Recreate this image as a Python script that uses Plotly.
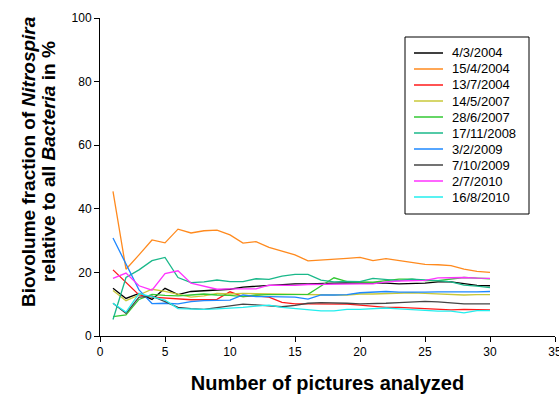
import plotly.graph_objects as go

# Number of pictures analyzed (x) and running biovolume fraction (%) per sampling date
pictures = list(range(1, 31))

dates = ["4/3/2004", "15/4/2004", "13/7/2004", "14/5/2007", "28/6/2007",
         "17/11/2008", "3/2/2009", "7/10/2009", "2/7/2010", "16/8/2010"]

colors = ["#000000", "#ff8a1e", "#ff1a1a", "#c8c83a", "#33c833",
          "#1ab88a", "#1e88ff", "#454545", "#ff33ff", "#22eeee"]

s_04032004 = [15.0, 11.8, 13.4, 11.5, 15.0, 13.0, 14.0, 14.2, 14.5, 14.7,
              15.4, 15.7, 15.9, 16.2, 16.4, 16.4, 16.6, 16.6, 16.7, 16.7,
              16.8, 16.6, 16.4, 16.4, 16.6, 17.0, 17.0, 16.5, 15.9, 15.8]
s_15042004 = [45.5, 21.0, 25.5, 30.2, 29.3, 33.6, 32.4, 33.1, 33.3, 31.8,
              29.2, 29.7, 27.9, 26.7, 25.5, 23.6, 23.8, 24.1, 24.4, 24.7,
              23.7, 24.3, 23.7, 23.0, 22.5, 22.4, 22.1, 21.0, 20.3, 20.0]
s_13072004 = [20.8, 17.0, 12.9, 12.2, 11.9, 11.7, 11.4, 11.4, 11.5, 13.9,
              12.4, 12.6, 12.2, 10.6, 10.1, 10.1, 10.1, 10.1, 10.0, 9.7,
              9.4, 9.0, 9.0, 8.8, 8.8, 8.6, 8.2, 8.4, 8.4, 8.2]
s_14052007 = [14.3, 11.1, 12.9, 14.7, 14.0, 13.2, 12.2, 12.6, 13.4, 13.2,
              13.4, 13.3, 13.2, 13.3, 13.2, 13.0, 12.9, 12.9, 12.9, 13.2,
              13.2, 13.4, 13.6, 13.6, 13.4, 13.2, 13.2, 12.9, 13.0, 13.0]
s_28062007 = [6.1, 6.6, 11.5, 13.1, 12.8, 12.6, 12.9, 13.2, 12.9, 12.8,
              12.4, 12.9, 13.0, 13.1, 13.1, 13.1, 15.7, 18.3, 17.1, 17.1,
              16.9, 17.4, 17.9, 17.9, 17.4, 17.4, 17.9, 18.4, 18.2, 18.0]
s_17112008 = [5.2, 18.4, 20.8, 23.7, 24.7, 18.4, 16.8, 17.0, 17.6, 17.1,
              17.1, 18.0, 17.8, 18.8, 19.4, 19.4, 17.6, 17.0, 17.2, 17.1,
              18.1, 17.8, 17.4, 17.9, 17.7, 17.4, 17.0, 16.0, 15.7, 15.2]
s_03022009 = [30.8, 22.7, 14.5, 10.2, 10.3, 10.1, 10.8, 11.1, 11.3, 11.3,
              12.9, 12.4, 12.4, 12.2, 12.2, 11.6, 12.9, 12.9, 13.0, 13.6,
              13.7, 14.0, 13.8, 13.7, 13.8, 13.9, 13.8, 13.9, 13.9, 14.0]
s_07102009 = [10.3, 7.1, 12.2, 12.5, 10.8, 9.0, 8.6, 8.4, 8.9, 9.4,
              10.0, 9.8, 9.6, 9.2, 9.6, 10.3, 10.5, 10.5, 10.3, 10.1,
              10.1, 10.3, 10.5, 10.6, 10.9, 10.7, 10.4, 10.1, 10.1, 10.1]
s_02072010 = [18.1, 19.8, 15.8, 14.4, 19.6, 20.5, 16.6, 15.7, 14.7, 14.8,
              14.7, 14.8, 16.0, 16.0, 15.9, 16.2, 16.3, 16.3, 16.4, 16.4,
              16.4, 17.0, 17.3, 17.5, 17.5, 18.3, 18.4, 18.4, 18.2, 18.1]
s_16082010 = [10.3, 7.5, 13.4, 12.4, 11.3, 8.6, 8.4, 8.4, 8.5, 8.7,
              9.0, 9.4, 9.7, 9.0, 8.7, 8.4, 7.9, 7.9, 8.4, 8.4,
              8.5, 8.8, 8.5, 8.2, 7.9, 7.8, 7.8, 7.3, 8.0, 8.0]

series = [s_04032004, s_15042004, s_13072004, s_14052007, s_28062007,
          s_17112008, s_03022009, s_07102009, s_02072010, s_16082010]

x_ticks = [0, 5, 10, 15, 20, 25, 30, 35]
y_ticks = [0, 20, 40, 60, 80, 100]

FONT = "Liberation Sans, Arial, sans-serif"

W, H = 559, 394
M_L, M_R, M_T, M_B = 100, 4, 18, 58
PLOT_W = W - M_L - M_R
PLOT_H = H - M_T - M_B


def px_x(px):
    """Page pixel column -> paper x fraction."""
    return (px - M_L) / PLOT_W


def px_y(py):
    """Page pixel row -> paper y fraction."""
    return (H - M_B - py) / PLOT_H


fig = go.Figure()
for name, color, values in zip(dates, colors, series):
    fig.add_trace(go.Scatter(
        x=pictures, y=values, name=name, mode="lines",
        line=dict(color=color, width=1.3),
    ))

axis_common = dict(
    showline=True, linecolor="black", linewidth=1,
    ticks="outside", ticklen=5, tickcolor="black", tickwidth=1,
    showgrid=False, zeroline=False, automargin=False,
    tickfont=dict(family=FONT, size=12, color="black"),
)

# Boxed legend: a short line sample and the date for each series
shapes = [dict(type="rect", xref="paper", yref="paper",
               x0=px_x(405), x1=px_x(529), y0=px_y(214), y1=px_y(37),
               line=dict(color="black", width=1), fillcolor="white", layer="above")]
annotations = []
for i, (name, color) in enumerate(zip(dates, colors)):
    row = 53 + 16 * i
    shapes.append(dict(type="line", xref="paper", yref="paper",
                       x0=px_x(414), x1=px_x(443), y0=px_y(row), y1=px_y(row),
                       line=dict(color=color, width=1.5), layer="above"))
    annotations.append(dict(text=name, xref="paper", yref="paper",
                            x=px_x(450), y=px_y(row), xanchor="left", yanchor="middle",
                            showarrow=False,
                            font=dict(family=FONT, size=13, color="black")))

# Two-line y-axis title
y_title_lines = ["Biovolume fraction of <i>Nitrospira</i>",
                 "relative to all <i>Bacteria</i> in %"]
for text, cx in zip(y_title_lines, [28, 48]):
    annotations.append(dict(text=text, xref="paper", yref="paper",
                            x=px_x(cx), y=px_y(162), xanchor="center", yanchor="middle",
                            textangle=-90, showarrow=False,
                            font=dict(family=FONT, size=19, weight="bold", color="black")))

fig.update_layout(
    width=W, height=H,
    margin=dict(l=M_L, r=M_R, t=M_T, b=M_B, autoexpand=False),
    paper_bgcolor="white", plot_bgcolor="white",
    font=dict(family=FONT, color="black"),
    showlegend=False,
    xaxis=dict(
        range=[0, 35], tickvals=x_ticks, ticklabeloverflow="allow",
        title=dict(text="Number of pictures analyzed",
                   font=dict(family=FONT, size=20, weight="bold", color="black"),
                   standoff=18),
        **axis_common,
    ),
    yaxis=dict(range=[0, 100], tickvals=y_ticks, **axis_common),
    shapes=shapes,
    annotations=annotations,
)

fig.write_html("out.html")
